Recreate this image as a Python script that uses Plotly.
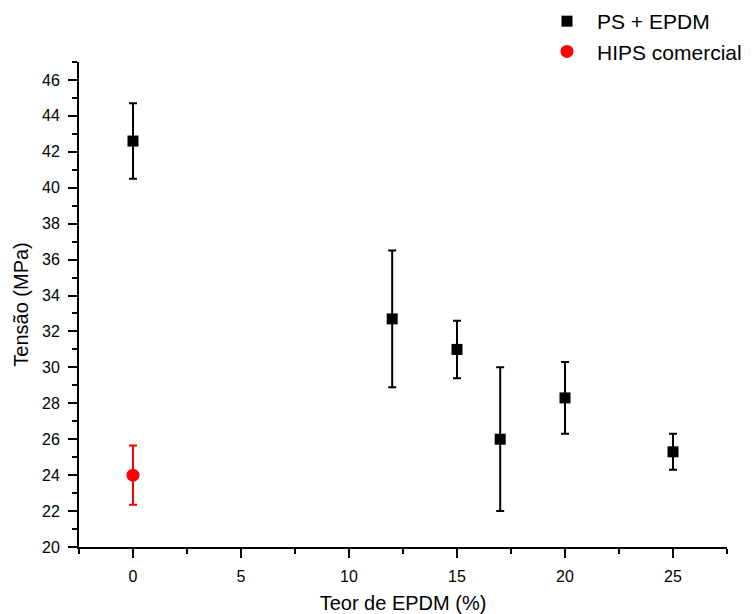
import plotly.graph_objects as go

# Data
ps_x = [0, 12, 15, 17, 20, 25]
ps_y = [42.6, 32.7, 31.0, 26.0, 28.3, 25.3]
ps_err = [2.1, 3.8, 1.6, 4.0, 2.0, 1.0]

hips_x = [0]
hips_y = [24.0]
hips_err = [1.65]

x_tickvals = [0, 5, 10, 15, 20, 25]
y_tickvals = [20, 22, 24, 26, 28, 30, 32, 34, 36, 38, 40, 42, 44, 46]

fig = go.Figure()
fig.add_trace(go.Scatter(
    x=ps_x, y=ps_y, mode="markers", name="PS + EPDM",
    marker=dict(symbol="square", size=11, color="black"),
    error_y=dict(type="data", array=ps_err, visible=True, color="black", thickness=2, width=4),
))
fig.add_trace(go.Scatter(
    x=hips_x, y=hips_y, mode="markers", name="HIPS comercial",
    marker=dict(symbol="circle", size=13, color="red"),
    error_y=dict(type="data", array=hips_err, visible=True, color="red", thickness=2, width=4),
))

font_family = "Liberation Sans, Arial, sans-serif"
fig.update_layout(
    width=752, height=614,
    margin=dict(l=79, r=25, t=62, b=67, autoexpand=False),
    paper_bgcolor="white", plot_bgcolor="white",
    font=dict(family=font_family, color="black", size=16),
    showlegend=True,
    legend=dict(xref="container", yref="container", x=537 / 752, y=1 - 1 / 614,
                xanchor="left", yanchor="top",
                font=dict(size=21, family=font_family), bgcolor="rgba(0,0,0,0)",
                itemwidth=50, tracegroupgap=0),
    xaxis=dict(
        range=[-2.5, 27.5], tickvals=x_tickvals, ticktext=[str(v) for v in x_tickvals],
        showline=True, linecolor="black", linewidth=2, mirror=False,
        ticks="outside", ticklen=9, tickwidth=2, tickcolor="black",
        showgrid=False, zeroline=False, automargin=False,
        minor=dict(ticks="outside", tick0=-2.5, dtick=5, ticklen=5, tickwidth=2, tickcolor="black", showgrid=False),
        title=dict(text="Teor de EPDM (%)", font=dict(size=20), standoff=17),
        tickfont=dict(size=16), ticklabelstandoff=5,
    ),
    yaxis=dict(
        range=[20, 47], tickvals=y_tickvals, ticktext=[str(v) for v in y_tickvals],
        showline=True, linecolor="black", linewidth=2, mirror=False,
        ticks="outside", ticklen=9, tickwidth=2, tickcolor="black",
        showgrid=False, zeroline=False, automargin=False,
        minor=dict(ticks="outside", tick0=21, dtick=2, ticklen=5, tickwidth=2, tickcolor="black", showgrid=False),
        title=dict(text="Tensão (MPa)", font=dict(size=20), standoff=8),
        tickfont=dict(size=16), ticklabelstandoff=5,
    ),
)

fig.write_html("out.html", config={"displayModeBar": False},
               post_script="document.body.style.margin='0';")
